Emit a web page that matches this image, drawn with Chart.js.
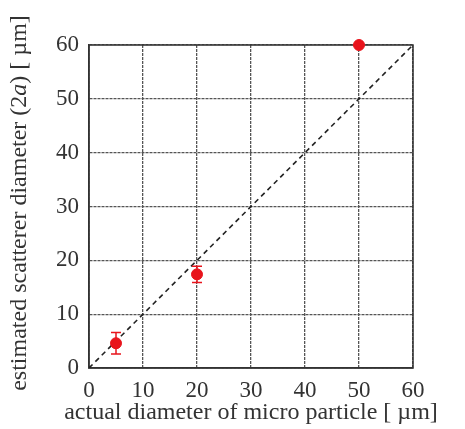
<!DOCTYPE html>
<html>
<head>
<meta charset="utf-8">
<script src="https://cdn.jsdelivr.net/npm/chart.js@4.4.1/dist/chart.umd.min.js"></script>
<style>
  body { margin: 0; background: #fff; }
  #wrap { width: 465px; height: 429px; }
</style>
</head>
<body>
<div id="wrap"><canvas id="chart" width="465" height="429"></canvas></div>
<script>
/* =====================
   DATA
===================== */
const actualDiam = [5, 20, 50];
const estDiam = [4.6, 17.4, 60];
const estErr = [2.0, 1.5, 0];
const refLine = [0, 60];
const xTicks = [0, 10, 20, 30, 40, 50, 60];
const yTicks = [0, 10, 20, 30, 40, 50, 60];
const xTitle = "actual diameter of micro particle [ \u00b5m]";
const yTitle = ["estimated scatterer diameter (2", "a", ") [ \u00b5m]"];

const SERIF = "'Liberation Serif', 'DejaVu Serif', serif";
const INK = "#333";

/* =====================
   PLUGINS
===================== */
// error bars, drawn through the scales
const errorBars = {
  id: "errorBars",
  afterDatasetsDraw(chart) {
    const { ctx, scales: { x, y } } = chart;
    ctx.save();
    ctx.strokeStyle = "#e8141c";
    ctx.lineWidth = 1.5;
    actualDiam.forEach((v, i) => {
      if (!estErr[i]) return;
      const px = x.getPixelForValue(v);
      const top = y.getPixelForValue(estDiam[i] + estErr[i]);
      const bot = y.getPixelForValue(estDiam[i] - estErr[i]);
      ctx.beginPath();
      ctx.moveTo(px, top); ctx.lineTo(px, bot);
      ctx.moveTo(px - 5, top); ctx.lineTo(px + 5, top);
      ctx.moveTo(px - 5, bot); ctx.lineTo(px + 5, bot);
      ctx.stroke();
    });
    ctx.restore();
  }
};

// solid box round the plot
const frame = {
  id: "frame",
  beforeDatasetsDraw(chart) {
    const { ctx, chartArea: a } = chart;
    ctx.save();
    ctx.strokeStyle = INK;
    ctx.lineWidth = 1.5;
    ctx.strokeRect(a.left, a.top, a.right - a.left, a.bottom - a.top);
    ctx.restore();
  }
};

// axis titles (chart.js squeezes titles to the axis length, so draw them here)
const axisTitles = {
  id: "axisTitles",
  afterDraw(chart) {
    const { ctx, chartArea: a } = chart;
    ctx.save();
    ctx.fillStyle = INK;
    ctx.textBaseline = "middle";

    // x
    ctx.font = `24px ${SERIF}`;
    ctx.textAlign = "center";
    ctx.fillText(xTitle, (a.left + a.right) / 2, 413);

    // y, with the italic "a"
    const fonts = [`24px ${SERIF}`, `italic 24px ${SERIF}`, `24px ${SERIF}`];
    ctx.textAlign = "left";
    const widths = yTitle.map((t, i) => { ctx.font = fonts[i]; return ctx.measureText(t).width; });
    const total = widths.reduce((s, w) => s + w, 0);
    ctx.translate(20, 203);
    ctx.rotate(-Math.PI / 2);
    let pos = -total / 2;
    yTitle.forEach((t, i) => {
      ctx.font = fonts[i];
      ctx.fillText(t, pos, 0);
      pos += widths[i];
    });
    ctx.restore();
  }
};

/* =====================
   CHART
===================== */
new Chart(document.getElementById("chart"), {
  type: "scatter",
  data: {
    datasets: [
      {
        label: "estimated",
        data: actualDiam.map((v, i) => ({ x: v, y: estDiam[i] })),
        backgroundColor: "#e8141c",
        borderColor: "#e8141c",
        pointRadius: 5.5,
        clip: false
      },
      {
        label: "y = x",
        type: "line",
        data: refLine.map(v => ({ x: v, y: v })),
        borderColor: "#222",
        borderWidth: 1.6,
        borderDash: [5, 4],
        pointRadius: 0,
        fill: false
      }
    ]
  },
  options: {
    responsive: false,
    animation: false,
    layout: { padding: { top: 45, right: 52, left: 0, bottom: 0 } },
    plugins: {
      legend: { display: false },
      tooltip: { enabled: false }
    },
    scales: {
      x: {
        type: "linear",
        min: 0, max: 60,
        afterBuildTicks: s => { s.ticks = xTicks.map(v => ({ value: v })); },
        afterFit: s => { s.height = 61; },
        ticks: { font: { family: SERIF, size: 23 }, color: INK, padding: 9 },
        grid: { color: "#555", lineWidth: 1.3, drawTicks: false },
        border: { display: true, color: INK, width: 1.5, dash: [3, 1] },
        title: { display: false }
      },
      y: {
        type: "linear",
        min: 0, max: 60,
        afterBuildTicks: s => { s.ticks = yTicks.map(v => ({ value: v })); },
        afterFit: s => { s.width = 89; },
        ticks: { font: { family: SERIF, size: 23 }, color: INK, padding: 10 },
        grid: { color: "#555", lineWidth: 1.3, drawTicks: false },
        border: { display: true, color: INK, width: 1.5, dash: [3, 1] },
        title: { display: false }
      }
    }
  },
  plugins: [frame, errorBars, axisTitles]
});
</script>
</body>
</html>
